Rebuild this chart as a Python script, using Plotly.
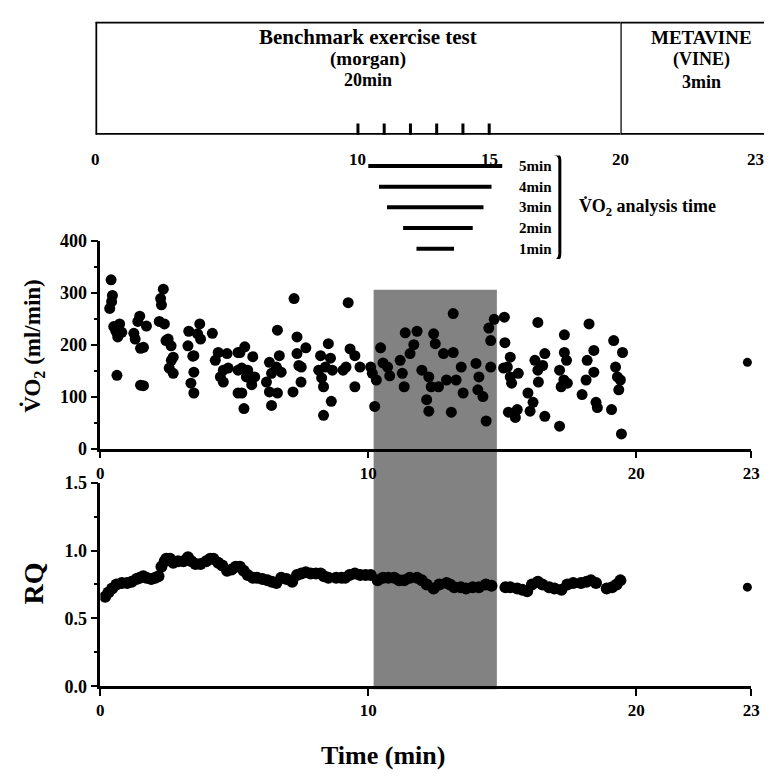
import plotly.graph_objects as go

# ---------------- data ----------------
vo2_time = [0.35, 0.40, 0.42, 0.45, 0.50, 0.58, 0.65, 0.72, 0.80, 0.62,
            1.25, 1.30, 1.47, 1.40, 1.72, 1.50, 1.61, 1.61, 1.50,
            2.25, 2.28, 2.35, 2.20, 2.39, 2.45, 2.53, 2.64, 2.72, 2.65, 2.57, 2.72,
            3.27, 3.30, 3.38, 3.49, 3.45, 3.49, 3.49, 3.63, 3.71, 3.74,
            4.18, 4.29, 4.40, 4.48, 4.59, 4.59, 4.73, 4.77,
            5.14, 5.14, 5.14, 5.21, 5.28, 5.28, 5.39, 5.45, 5.50, 5.65, 5.69, 5.76, 5.36,
            6.20, 6.31, 6.31, 6.39, 6.39, 6.57, 6.61, 6.61, 6.68, 6.75,
            7.19, 7.23, 7.34, 7.34, 7.41, 7.50, 7.49, 7.67,
            8.15, 8.22, 8.26, 8.33, 8.33, 8.40, 8.51, 8.59, 8.62, 8.66,
            9.06, 9.17, 9.25, 9.32, 9.50, 9.50, 9.69,
            10.09, 10.15, 10.24, 10.30, 10.46, 10.55, 10.72, 10.80,
            11.19, 11.27, 11.34, 11.38, 11.56, 11.70, 11.82,
            12.00, 12.18, 12.26, 12.26, 12.35, 12.44, 12.50, 12.62, 12.81, 12.92,
            13.10, 13.17, 13.17, 13.28, 13.47, 13.54,
            14.02, 14.09, 14.13, 14.28, 14.40, 14.50, 14.57, 14.57, 14.70,
            15.05, 15.08, 15.10, 15.19, 15.23, 15.30, 15.30, 15.35, 15.49, 15.56, 15.60,
            15.96, 16.04, 16.15, 16.22, 16.33, 16.33, 16.51, 16.35, 16.59, 16.59,
            17.14, 17.14, 17.20, 17.32, 17.32, 17.40, 17.43, 17.30,
            17.98, 18.13, 18.17, 18.24, 18.42, 18.42, 18.50, 18.55,
            19.08, 19.16, 19.23, 19.30, 19.41, 19.35, 19.49, 19.45]
vo2_value = [270, 325, 283, 295, 235, 226, 215, 240, 224, 141,
             222, 211, 255, 245, 236, 193, 195, 121, 122,
             289, 277, 307, 245, 240, 208, 211, 198, 176, 170, 155, 145,
             198, 226, 126, 179, 178, 147, 107, 221, 240, 211,
             222, 170, 185, 138, 151, 128, 183, 155,
             185, 151, 107, 185, 155, 107, 196, 138, 151, 123, 177, 138, 77,
             128, 166, 109, 145, 83, 157, 228, 107, 179, 147,
             109, 289, 215, 183, 160, 157, 128, 194,
             151, 179, 136, 119, 64, 157, 202, 174, 91, 151,
             151, 157, 281, 192, 179, 119, 157,
             157, 145, 81, 132, 194, 165, 157, 140,
             170, 145, 119, 223, 183, 200, 226,
             151, 94, 138, 72, 119, 221, 202, 119, 183, 132,
             70, 260, 185, 132, 157, 107,
             164, 113, 138, 100, 53, 232, 208, 157, 249,
             155, 253, 204, 157, 70, 176, 138, 126, 60, 75, 145,
             107, 72, 89, 170, 243, 151, 160, 128, 183, 62,
             151, 43, 119, 219, 185, 170, 126, 132,
             104, 132, 170, 240, 189, 147, 89, 79,
             75, 208, 157, 138, 132, 113, 185, 28]

rq_time = [0.18, 0.30, 0.44, 0.60, 0.80, 1.00, 1.17, 1.35, 1.47, 1.60, 1.72, 1.90,
           2.05, 2.17, 2.28, 2.40, 2.46, 2.60, 2.72, 2.90, 3.10, 3.27, 3.40, 3.55,
           3.74, 3.95, 4.10, 4.22, 4.40, 4.55, 4.73, 4.90, 5.05, 5.21, 5.35, 5.50,
           5.69, 5.85, 6.05, 6.24, 6.40, 6.57, 6.75, 6.95, 7.16, 7.34, 7.50, 7.67,
           7.85, 8.05, 8.22, 8.35, 8.51, 8.80, 9.00, 9.14, 9.30, 9.50, 9.70, 9.90,
           10.09, 10.35, 10.55, 10.75, 10.97, 11.15, 11.34, 11.55, 11.82, 12.00,
           12.18, 12.44, 12.65, 12.92, 13.05, 13.21, 13.45, 13.65, 13.90, 14.13,
           14.39, 14.60, 15.12, 15.30, 15.56, 15.75, 15.93, 16.11, 16.33, 16.50,
           16.75, 16.95, 17.21, 17.43, 17.65, 17.94, 18.15, 18.31, 18.50, 18.90,
           19.10, 19.27, 19.41]
rq_value = [0.66, 0.69, 0.72, 0.75, 0.76, 0.76, 0.77, 0.79, 0.80, 0.81, 0.80, 0.79,
            0.80, 0.81, 0.88, 0.92, 0.94, 0.94, 0.91, 0.92, 0.92, 0.95, 0.92, 0.90,
            0.90, 0.92, 0.94, 0.94, 0.91, 0.89, 0.85, 0.86, 0.88, 0.88, 0.85, 0.82,
            0.80, 0.80, 0.79, 0.78, 0.77, 0.76, 0.80, 0.79, 0.77, 0.82, 0.83, 0.84,
            0.83, 0.83, 0.83, 0.81, 0.80, 0.80, 0.80, 0.80, 0.82, 0.83, 0.82, 0.82,
            0.82, 0.78, 0.80, 0.80, 0.80, 0.78, 0.78, 0.80, 0.80, 0.78,
            0.75, 0.72, 0.75, 0.76, 0.75, 0.73, 0.73, 0.72, 0.73, 0.73,
            0.75, 0.74, 0.73, 0.73, 0.72, 0.71, 0.70, 0.75, 0.77, 0.75,
            0.73, 0.72, 0.71, 0.75, 0.76, 0.76, 0.77, 0.78, 0.76, 0.72,
            0.73, 0.75, 0.78]

vine_time = [22.9]
vine_vo2 = [166]
vine_rq = [0.73]

shade_window = [10.2, 14.8]          # analysis window shaded in both panels

analysis_minutes = [5, 4, 3, 2, 1]
analysis_start = [10.0, 10.4, 10.7, 11.3, 11.8]
analysis_end = [15.0, 14.6, 14.3, 13.9, 13.2]

top_tick_marks = [10, 11, 12, 13, 14, 15]
top_tick_values = [0, 10, 15, 20, 23]
top_tick_labels = ["0", "10", "15", "20", "23"]

vo2_ticks = [0, 100, 200, 300, 400]
rq_ticks = [0.0, 0.5, 1.0, 1.5]
rq_tick_labels = ["0.0", "0.5", "1.0", "1.5"]

# ---------------- layout geometry ----------------
W, H = 773, 783
def px(x):
    return x / W
def py(y):
    return 1 - y / H

dA = [px(98), px(643)]
dB = [px(643), px(760)]
vo2_dom = [py(450), py(237)]
rq_dom = [py(694), py(485)]
box_dom = [py(128), py(12)]
rows_dom = [py(255.6), py(149.4)]

SERIF = "Liberation Serif"
BLACK = "#000000"

fig = go.Figure()

fig.add_trace(go.Scatter(x=vo2_time, y=vo2_value, mode="markers",
                         marker=dict(color=BLACK, size=11, line=dict(width=0)),
                         xaxis="x", yaxis="y", showlegend=False))
fig.add_trace(go.Scatter(x=vine_time, y=vine_vo2, mode="markers", marker=dict(color=BLACK, size=9),
                         xaxis="x2", yaxis="y", showlegend=False, cliponaxis=False))
fig.add_trace(go.Scatter(x=rq_time, y=rq_value, mode="markers",
                         marker=dict(color=BLACK, size=12, line=dict(width=0)),
                         xaxis="x3", yaxis="y2", showlegend=False))
fig.add_trace(go.Scatter(x=vine_time, y=vine_rq, mode="markers", marker=dict(color=BLACK, size=9),
                         xaxis="x4", yaxis="y2", showlegend=False, cliponaxis=False))

# analysis-time bars
for m, s, e in zip(analysis_minutes, analysis_start, analysis_end):
    fig.add_trace(go.Scatter(x=[s, e], y=[m, m], mode="lines",
                             line=dict(color=BLACK, width=4),
                             xaxis="x7", yaxis="y7", showlegend=False, hoverinfo="skip"))

tickfont = dict(family=SERIF, size=18, color=BLACK, weight="bold")
xtickfont = dict(family=SERIF, size=17, color=BLACK, weight="bold")
ax_common = dict(showline=True, linecolor=BLACK, linewidth=2.5, ticks="outside",
                 tickcolor=BLACK, tickwidth=2, ticklen=7, showgrid=False, zeroline=False)

fig.update_layout(
    width=W, height=H, margin=dict(l=0, r=0, t=0, b=0),
    paper_bgcolor="white", plot_bgcolor="rgba(0,0,0,0)",
    xaxis=dict(domain=dA, range=[0, 20], anchor="y", tickvals=[0, 10, 20],
               tickfont=xtickfont, **ax_common),
    xaxis2=dict(domain=dB, range=[20, 23], anchor="y", tickvals=[23],
                tickfont=xtickfont, **ax_common),
    yaxis=dict(domain=vo2_dom, range=[0, 400], anchor="x", tickvals=vo2_ticks,
               tickfont=tickfont, minor=dict(ticks="outside", ticklen=4, tickcolor=BLACK, dtick=50),
               **ax_common),
    xaxis3=dict(domain=dA, range=[0, 20], anchor="y2", tickvals=[0, 10, 20],
                tickfont=xtickfont, **ax_common),
    xaxis4=dict(domain=dB, range=[20, 23], anchor="y2", tickvals=[23],
                tickfont=xtickfont, **ax_common),
    yaxis2=dict(domain=rq_dom, range=[0, 1.5], anchor="x3", tickvals=rq_ticks,
                ticktext=rq_tick_labels, tickfont=tickfont,
                minor=dict(ticks="outside", ticklen=4, tickcolor=BLACK, dtick=0.25),
                **ax_common),
    xaxis5=dict(domain=[px(93), px(627)], range=[0, 20], anchor="y5", visible=False),
    xaxis6=dict(domain=[px(627), 1.0], range=[20, 23.2], anchor="y5", visible=False),
    yaxis5=dict(domain=box_dom, range=[0, 1], anchor="x5", visible=False),
    xaxis7=dict(domain=dA, range=[0, 20], anchor="y7", visible=False),
    yaxis7=dict(domain=rows_dom, range=[0.5, 5.5], anchor="x7", visible=False),
)

shapes = []
# shaded analysis window spanning both panels
shapes.append(dict(type="rect", xref="x", yref="paper", x0=shade_window[0], x1=shade_window[1],
                   y0=py(697), y1=py(287), fillcolor="#828282", line=dict(width=0), layer="below"))
# top schematic box
bl = dict(color=BLACK, width=3.5)
shapes += [
    dict(type="line", xref="x5", yref="y5", x0=0, x1=20, y0=1, y1=1, line=bl),
    dict(type="line", xref="x5", yref="y5", x0=0, x1=20, y0=0, y1=0, line=bl),
    dict(type="line", xref="x5", yref="y5", x0=0, x1=0, y0=0, y1=1, line=bl),
    dict(type="line", xref="x6", yref="y5", x0=20, x1=23.2, y0=1, y1=1, line=bl),
    dict(type="line", xref="x6", yref="y5", x0=20, x1=23.2, y0=0, y1=0, line=bl),
    dict(type="line", xref="x6", yref="y5", x0=20, x1=20, y0=0, y1=1, line=dict(color=BLACK, width=2.5)),
]
for t in top_tick_marks:
    shapes.append(dict(type="line", xref="x5", yref="y5", x0=t, x1=t, y0=-0.05, y1=0.1,
                       line=dict(color=BLACK, width=3)))
# bracket
shapes.append(dict(type="path", xref="x7", yref="y7",
                   path="M 16.9,5.6 Q 17.15,5.55 17.15,5.3 L 17.15,0.75 Q 17.15,0.45 16.9,0.35",
                   line=dict(color=BLACK, width=3)))
fig.update_layout(shapes=shapes)

ann = []
def txt(text, x, y, xref, yref, size, **kw):
    d = dict(text=text, x=x, y=y, xref=xref, yref=yref, showarrow=False,
             xanchor="center", yanchor="middle",
             font=dict(family=SERIF, size=size, color=BLACK, weight="bold"))
    d.update(kw)
    ann.append(d)

# box texts
txt("Benchmark exercise test", 10.4, py(28), "x5", "paper", 21)
txt("(morgan)", 10.4, py(50), "x5", "paper", 19)
txt("20min", 10.4, py(72), "x5", "paper", 18)
txt("METAVINE", 21.8, py(28), "x6", "paper", 19)
txt("(VINE)", 21.8, py(51), "x6", "paper", 18)
txt("3min", 21.8, py(74), "x6", "paper", 18)
for v, lab in zip(top_tick_values, top_tick_labels):
    xr = "x6" if v > 20 else "x5"
    txt(lab, v, py(153), xr, "paper", 17)

# analysis time labels
for m in analysis_minutes:
    txt(f"{m}min", 15.55, m, "x7", "y7", 15, xanchor="left")
txt("V̇O<sub>2</sub> analysis time", 17.8, 3, "x7", "y7", 18, xanchor="left")

# axis titles
txt("V̇O<sub>2</sub> (ml/min)", px(30), py(345), "paper", "paper", 23, textangle=-90)
txt("RQ", px(30), py(588), "paper", "paper", 28, textangle=-90)
txt("Time (min)", px(385), py(765), "paper", "paper", 26)

fig.update_layout(annotations=ann)

fig.write_html("out.html")
